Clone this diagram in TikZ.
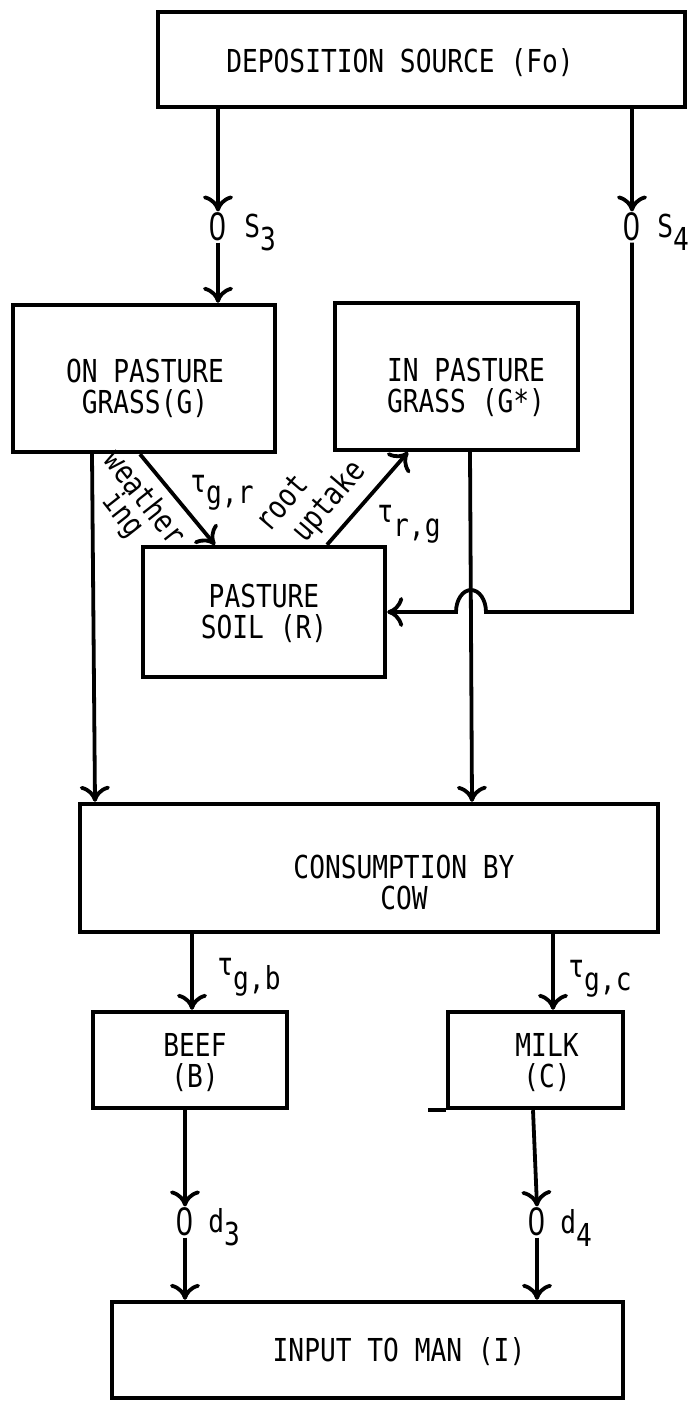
\documentclass[tikz,border=0pt]{standalone}
\usepackage{fontspec}
\setmainfont{DejaVu Sans Mono}[FakeStretch=0.83]
\newfontfamily\zerofont{Liberation Sans}[FakeStretch=0.75]
\usetikzlibrary{arrows.meta}
\begin{document}
\begin{tikzpicture}[x=0.5pt,y=-0.5pt,
  box/.style={draw,line width=2.2pt,inner sep=0pt},
  txt/.style={font=\fontsize{15.8}{15.5}\selectfont,align=center,inner sep=0pt},
  lbl/.style={font=\fontsize{15.8}{18}\selectfont,inner sep=0pt,anchor=base west},
  zero/.style={font=\zerofont\fontsize{20}{22}\selectfont,inner sep=0.5pt},
  arr/.style={line width=1.9pt,-{Computer Modern Rightarrow[length=8pt,width=15pt]}},
  ln/.style={line width=1.9pt}]
\useasboundingbox (0,0) rectangle (688,1402);

% boxes
\node[box,minimum width=263.5pt,minimum height=47.5pt] (dep) at (421.5,59.5) {};
\node[box,minimum width=131pt,minimum height=73.5pt] (g) at (144,378.5) {};
\node[box,minimum width=121.5pt,minimum height=73.5pt] (gs) at (456.5,376.5) {};
\node[box,minimum width=121pt,minimum height=65pt] (r) at (264,612) {};
\node[box,minimum width=289pt,minimum height=64pt] (cow) at (369,868) {};
\node[box,minimum width=97pt,minimum height=48pt] (b) at (190,1060) {};
\node[box,minimum width=87.5pt,minimum height=48pt] (c) at (535.5,1060) {};
\node[box,minimum width=255.5pt,minimum height=48pt] (I) at (367.5,1350) {};

% texts
\node[txt] (depT) at (400,63) {DEPOSITION SOURCE (Fo)};
\node[txt] (gT) at (145,388) {ON PASTURE\\GRASS(G)};
\node[txt] (gsT) at (466,387) {IN PASTURE\\GRASS (G*)};
\node[txt] (rT) at (264,613) {PASTURE\\SOIL (R)};
\node[txt] (cowT) at (404,882) {CONSUMPTION BY\\COW};
\node[txt] (bT) at (195,1063) {BEEF\\(B)};
\node[txt] (cT) at (547,1063) {MILK\\(C)};
\node[txt] (iT) at (399,1352) {INPUT TO MAN (I)};

% zero markers
\node[zero] (o3) at (218,227) {0};
\node[zero] (o4) at (632,227) {0};
\node[zero] (od3) at (185,1222) {0};
\node[zero] (od4) at (537,1222) {0};

% labels
\node[lbl] (s3) at (244,237) {S\raisebox{-0.42em}{3}};
\node[lbl] (s4) at (657,237) {S\raisebox{-0.42em}{4}};
\node[lbl] (d3) at (208,1232) {d\raisebox{-0.42em}{3}};
\node[lbl] (d4) at (560,1233) {d\raisebox{-0.42em}{4}};
\node[lbl] (tgr) at (190,492) {τ\raisebox{-0.35em}{g,r}};
\node[lbl] (trg) at (377,522) {τ\raisebox{-0.45em}{r,g}};
\node[lbl] (tgb) at (217,975) {τ\raisebox{-0.45em}{g,b}};
\node[lbl] (tgc) at (568,977) {τ\raisebox{-0.42em}{g,c}};
\node[font=\fontsize{15.8}{11.5}\selectfont,align=center,inner sep=0pt,rotate=-51.7]
  (wea) at (133,507) {weather\\ing};
\node[font=\fontsize{15.8}{17}\selectfont,align=left,inner sep=0pt,rotate=49.5]
  (upt) at (312,497) {root\\\hspace*{0.5em}uptake};

% connectors
\draw[arr] (dep.south -| o3) -- (o3.north);
\draw[arr] (o3.south) -- (o3 |- g.north);
\draw[arr] (dep.south -| o4) -- (o4.north);
\draw[arr] (o4.south) -- (632,612) -- (486,612)
  arc[start angle=0,end angle=-180,x radius=15,y radius=22] -- (r.east);
\draw[arr] (g.south -| 140,0) -- (r.north -| 215,0);
\draw[arr] (r.north -| 327,0) -- (gs.south -| 408,0);
\draw[arr] (g.south -| 92,0) -- (cow.north -| 95,0);
\draw[arr] (gs.south -| 470,0) -- (cow.north -| 472,0);
\draw[arr] (cow.south -| 192,0) -- (b.north -| 192,0);
\draw[arr] (cow.south -| 553,0) -- (c.north -| 553,0);
\draw[arr] (b.south -| od3) -- (od3.north);
\draw[arr] (od3.south) -- (od3 |- I.north);
\draw[arr] (c.south -| 533,0) -- (od4.north);
\draw[arr] (od4.south) -- (od4 |- I.north);
\draw[ln] (c.south west) -- ++(-18,0);
\end{tikzpicture}
\end{document}
